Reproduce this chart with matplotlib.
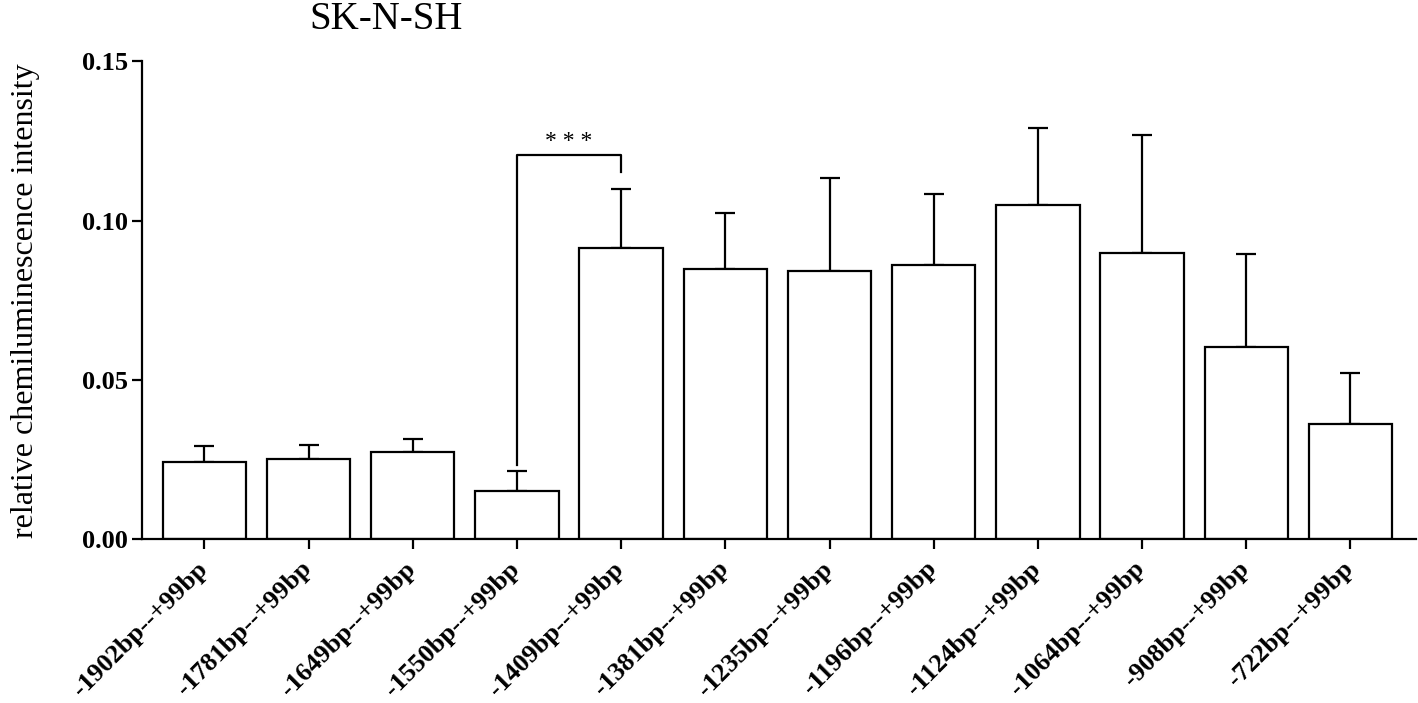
import numpy as np
import matplotlib
matplotlib.use("Agg")
import matplotlib.pyplot as plt
import matplotlib.transforms as mtransforms

# --- data ---
labels = ["-1902bp--+99bp", "-1781bp--+99bp", "-1649bp--+99bp", "-1550bp--+99bp",
          "-1409bp--+99bp", "-1381bp--+99bp", "-1235bp--+99bp", "-1196bp--+99bp",
          "-1124bp--+99bp", "-1064bp--+99bp", "-908bp--+99bp", "-722bp--+99bp"]
means = [0.0242, 0.0253, 0.0275, 0.0152, 0.0913, 0.0848,
         0.0842, 0.0860, 0.1048, 0.0897, 0.0602, 0.0362]
upper = [0.0294, 0.0296, 0.0315, 0.0214, 0.1098, 0.1024,
         0.1133, 0.1083, 0.1290, 0.1270, 0.0894, 0.0522]
sd = [u - m for u, m in zip(upper, means)]

# significance bracket between bar 4 and bar 5
sig_pair = (3, 4)
sig_ends = (0.0233, 0.1151)
sig_top = 0.1207
sig_text = "* * *"

plt.rcParams["font.family"] = ["Liberation Serif", "DejaVu Serif"]

fig = plt.figure(figsize=(14.18, 7.03), dpi=100)
ax = fig.add_axes([0.1001, 0.2329, 0.8985, 0.6800])

x = np.arange(len(labels))
ax.bar(x, means, width=0.8, color="white", edgecolor="black", linewidth=1.6, zorder=2)
ax.errorbar(x, means, yerr=[np.zeros(len(sd)), sd], fmt="none", ecolor="black",
            elinewidth=1.6, capsize=7.5, capthick=1.6, zorder=1)

# bracket
x0, x1 = sig_pair
ax.plot([x0, x0, x1, x1], [sig_ends[0], sig_top, sig_top, sig_ends[1]],
        color="black", linewidth=1.6, clip_on=False)
ax.text((x0 + x1) / 2, sig_top + 0.0007, sig_text, ha="center", va="bottom",
        fontsize=17)

ax.set_xlim(-0.6, 11.63)
ax.set_ylim(0, 0.15)
ax.set_yticks([0.0, 0.05, 0.10, 0.15])
ax.set_yticklabels(["0.00", "0.05", "0.10", "0.15"], fontsize=19, fontweight="bold")
ax.set_xticks(x)
ax.set_xticklabels(labels, rotation=45, ha="right", rotation_mode="anchor",
                   fontsize=19, fontweight="bold")

for side in ["top", "right"]:
    ax.spines[side].set_visible(False)
for side in ["left", "bottom"]:
    ax.spines[side].set_linewidth(1.6)
ax.tick_params(axis="both", width=1.6, length=7, pad=3)

# nudge rotated labels so their ends sit under the ticks (after tick_params)
shift = mtransforms.ScaledTranslation(-0.09, -0.04, fig.dpi_scale_trans)
for lab in ax.get_xticklabels():
    lab.set_transform(lab.get_transform() + shift)

ax.set_ylabel("relative chemiluminescence intensity", fontsize=23, labelpad=30)
fig.text(0.272, 0.998, "SK-N-SH", ha="center", va="top", fontsize=28)

fig.savefig("out.png", dpi=100)
